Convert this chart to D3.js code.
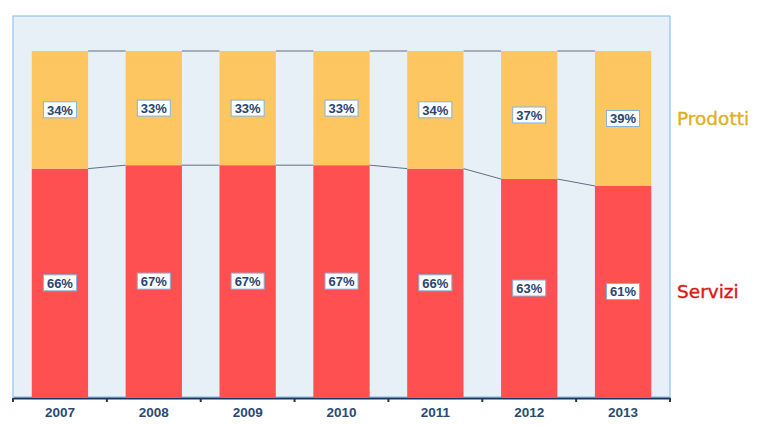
<!DOCTYPE html>
<html><head><meta charset="utf-8">
<script src="https://cdn.jsdelivr.net/npm/d3@7"></script>
<style>body{margin:0;background:#fff}svg{display:block}</style>
</head><body><svg id="c" width="765" height="425"></svg>
<script>
const years = ["2007","2008","2009","2010","2011","2012","2013"];
const servizi = [66,67,67,67,66,63,61];
const prodotti = [34,33,33,33,34,37,39];
const seriesNames = ["Servizi","Prodotti"];

const svg = d3.select("#c");
const L=13, R=670, T=16, B=397, TOP100=51;
svg.append("rect").attr("x",L).attr("y",T).attr("width",R-L).attr("height",B-T)
  .attr("fill","#e8f0f7").attr("stroke","#90c4f0").attr("stroke-width",1.2);

const x = d3.scaleBand().domain(years).range([L,R]).paddingInner(0.4).paddingOuter(0.2);
const y = d3.scaleLinear().domain([0,100]).range([B,TOP100]);

const data = years.map((yr,i)=>({year:yr, s:servizi[i], p:prodotti[i]}));

// connectors
const g = svg.append("g");
for(let i=0;i<data.length-1;i++){
  const a=data[i], b=data[i+1];
  const x1=x(a.year)+x.bandwidth(), x2=x(b.year);
  g.append("line").attr("x1",x1).attr("x2",x2).attr("y1",y(a.s+a.p)).attr("y2",y(b.s+b.p))
   .attr("stroke","#5f6f86").attr("stroke-width",1);
  g.append("line").attr("x1",x1).attr("x2",x2).attr("y1",y(a.s)).attr("y2",y(b.s))
   .attr("stroke","#5f6f86").attr("stroke-width",1);
}

// bars
svg.append("g").selectAll("rect").data(data).join("rect")
  .attr("x",d=>x(d.year)).attr("width",x.bandwidth())
  .attr("y",d=>y(d.s)).attr("height",d=>y(0)-y(d.s)).attr("fill","#fe5050");
svg.append("g").selectAll("rect").data(data).join("rect")
  .attr("x",d=>x(d.year)).attr("width",x.bandwidth())
  .attr("y",d=>y(d.s+d.p)).attr("height",d=>y(d.s)-y(d.s+d.p)).attr("fill","#fdc660");

// labels
function label(cx,cy,txt){
  const w=33,h=16;
  svg.append("rect").attr("x",cx-w/2).attr("y",cy-h/2).attr("width",w).attr("height",h)
    .attr("fill","#fff").attr("stroke","#7fb3e0").attr("stroke-width",1);
  svg.append("text").attr("x",cx).attr("y",cy+4.8).attr("text-anchor","middle")
    .attr("font-family","Liberation Sans, Arial, sans-serif").attr("font-weight","bold")
    .attr("font-size",13).attr("fill","#2a4470").text(txt);
}
data.forEach(d=>{
  const cx=x(d.year)+x.bandwidth()/2;
  label(cx,(y(d.s)+y(d.s+d.p))/2,d.p+"%");
  label(cx,(y(0)+y(d.s))/2,d.s+"%");
});

// axis
const axis = d3.axisBottom(x).tickSize(0).tickPadding(9);
const ag = svg.append("g").attr("transform",`translate(0,${B+1})`).call(axis);
ag.select(".domain").attr("stroke","#1c3860").attr("stroke-width",2);
ag.selectAll("text").attr("font-family","Liberation Sans, Arial, sans-serif").attr("font-weight","bold")
  .attr("font-size",13.5).attr("fill","#2a4a75");
const bounds = d3.range(years.length+1).map(i=>L+i*(R-L)/years.length);
ag.selectAll(".bt").data(bounds).join("line").attr("x1",d=>d).attr("x2",d=>d).attr("y1",0).attr("y2",4)
  .attr("stroke","#1c3860").attr("stroke-width",2);

// legend
const last = data[data.length-1];
svg.append("text").attr("x",677).attr("y",(y(last.s)+y(100))/2+7).text(seriesNames[1])
  .attr("font-family","DejaVu Sans, Verdana, sans-serif").attr("font-size",18.5)
  .attr("fill","#e0b020").attr("stroke","#e0b020").attr("stroke-width",0.4);
svg.append("text").attr("x",677).attr("y",(y(0)+y(last.s))/2+7).text(seriesNames[0])
  .attr("font-family","DejaVu Sans, Verdana, sans-serif").attr("font-size",18.5)
  .attr("fill","#d81818").attr("stroke","#d81818").attr("stroke-width",0.4);
</script></body></html>
